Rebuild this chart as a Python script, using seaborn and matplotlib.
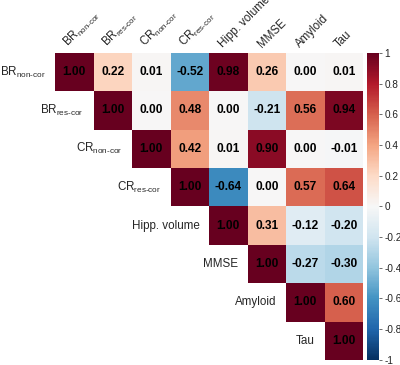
import numpy as np
import pandas as pd
import matplotlib
matplotlib.use("Agg")
import matplotlib.pyplot as plt
import seaborn as sns

sns.set_style("white")
plt.rcParams['font.family'] = ['Liberation Sans', 'DejaVu Sans']
plt.rcParams['mathtext.fontset'] = 'custom'
plt.rcParams['mathtext.rm'] = 'Liberation Sans'
plt.rcParams['axes.unicode_minus'] = False

# variable labels (mathtext subscripts)
labels = ["BR$_\\text{non-cor}$", "BR$_\\text{res-cor}$",
          "CR$_\\text{non-cor}$", "CR$_\\text{res-cor}$",
          "Hipp. volume", "MMSE", "Amyloid", "Tau"]

# upper triangle of the correlation matrix, row by row (diagonal included)
row_br_non = [1.00, 0.22, 0.01, -0.52, 0.98, 0.26, 0.00, 0.01]
row_br_res = [1.00, 0.00, 0.48, 0.00, -0.21, 0.56, 0.94]
row_cr_non = [1.00, 0.42, 0.01, 0.90, 0.00, -0.01]
row_cr_res = [1.00, -0.64, 0.00, 0.57, 0.64]
row_hipp = [1.00, 0.31, -0.12, -0.20]
row_mmse = [1.00, -0.27, -0.30]
row_amyloid = [1.00, 0.60]
row_tau = [1.00]

rows = [row_br_non, row_br_res, row_cr_non, row_cr_res,
        row_hipp, row_mmse, row_amyloid, row_tau]
n = len(labels)
mat = np.zeros((n, n))
for i, r in enumerate(rows):
    mat[i, i:] = r
    mat[i:, i] = r
df = pd.DataFrame(mat, index=labels, columns=labels)
mask = np.tril(np.ones((n, n), dtype=bool), k=-1)

fig = plt.figure(figsize=(4.0, 3.65), dpi=100)
ax = fig.add_axes([0.1375, 0.014, 0.77, 0.841])
cax = fig.add_axes([0.9175, 0.014, 0.03, 0.841])

sns.heatmap(df, mask=mask, cmap="RdBu_r", vmin=-1, vmax=1,
            annot=True, fmt=".2f",
            annot_kws={"color": "black", "fontweight": "bold", "fontsize": 8.6},
            cbar_ax=cax, ax=ax, xticklabels=False, yticklabels=False)
ax.set_xlabel("")
ax.set_ylabel("")

# column labels along the top, rotated
for j, lab in enumerate(labels):
    ax.text(j + 0.42, -0.08, lab, rotation=45, rotation_mode='anchor',
            ha='left', va='bottom', fontsize=8.3, clip_on=False)

# row labels to the left of the diagonal
for i, lab in enumerate(labels):
    ax.text(i - 0.25, i + 0.5, lab, ha='right', va='center',
            fontsize=8.4, clip_on=False)

# colorbar
ticks = np.round(np.linspace(-1, 1, 11), 1)
cax.set_yticks(ticks)
cax.set_yticklabels([f"{t:g}" for t in ticks])
cax.tick_params(labelsize=7.2, length=2.5, width=0.6, colors='#555555',
                labelcolor='#222222', pad=1.2)
for s in cax.spines.values():
    s.set_visible(False)

fig.savefig("out.png", dpi=100)
